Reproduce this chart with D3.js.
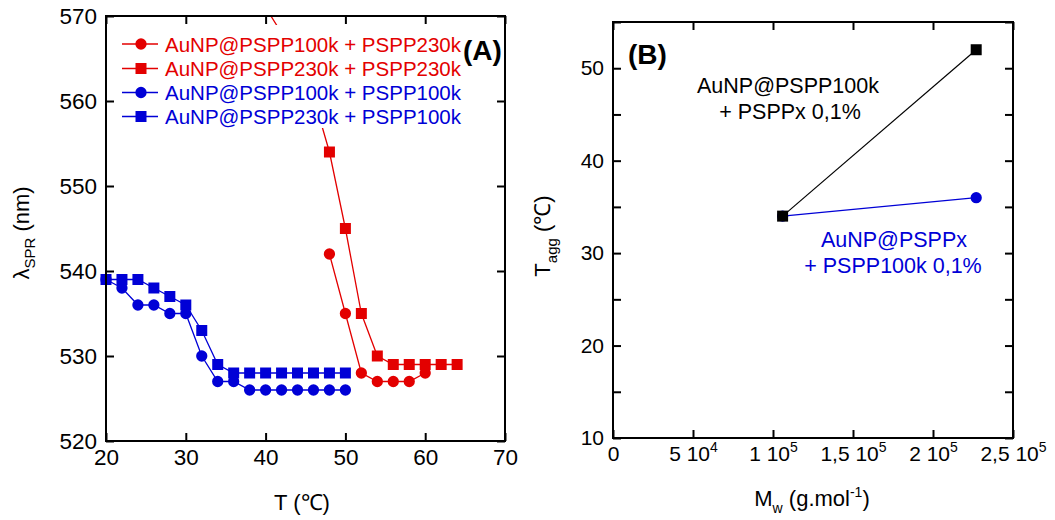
<!DOCTYPE html>
<html><head><meta charset="utf-8">
<script src="https://cdn.jsdelivr.net/npm/d3@7/dist/d3.min.js"></script>
<style>
body{margin:0;background:#fff;}
svg{display:block;font-family:"Liberation Sans",Arial,sans-serif;}
</style></head>
<body>
<svg id="c" width="1055" height="520"></svg>
<script>
// ---------- Panel A data ----------
const tempsRedCirc = [48,50,52,54,56,58,60];
const lambdaRedCirc = [542,535,528,527,527,527,528];
const tempsRedSq = [40,42,44,46,48,50,52,54,56,58,60,62,64];
const lambdaRedSq = [571,568,564.5,560.5,554,545,535,530,529,529,529,529,529];
const tempsBlue = [20,22,24,26,28,30,32,34,36,38,40,42,44,46,48,50];
const lambdaBlueCirc = [539,538,536,536,535,535,530,527,527,526,526,526,526,526,526,526];
const lambdaBlueSq = [539,539,539,538,537,536,533,529,528,528,528,528,528,528,528,528];
const seriesNamesA = ["AuNP@PSPP100k + PSPP230k","AuNP@PSPP230k + PSPP230k","AuNP@PSPP100k + PSPP100k","AuNP@PSPP230k + PSPP100k"];
const xTicksA = [20,30,40,50,60,70];
const yTicksA = [520,530,540,550,560,570];

// ---------- Panel B data ----------
const mwB = [1.06e5, 2.27e5];
const taggBlack = [34, 52];
const taggBlue = [34, 36];
const xTicksB = [0,5e4,1e5,1.5e5,2e5,2.5e5];
const xTickBaseB = ["0","5 10","1 10","1,5 10","2 10","2,5 10"];
const xTickExpB = ["","4","5","5","5","5"];
const yTicksB = [10,15,20,25,30,35,40,45,50,55];

const RED = "#e30000", BLUE = "#0000d6", BLACK = "#000";
const svg = d3.select("#c");

function frameAxes(g, x, y, xt, yt, xfmt, yfmt, fs, w, h){
  const tl = 8;
  g.append("g").attr("class","xb").attr("transform",`translate(0,${h})`)
    .call(d3.axisBottom(x).tickValues(xt).tickSizeInner(-tl).tickSizeOuter(0).tickPadding(8).tickFormat(xfmt));
  g.append("g")
    .call(d3.axisTop(x).tickValues(xt).tickSizeInner(-tl).tickSizeOuter(0).tickFormat(""));
  g.append("g")
    .call(d3.axisLeft(y).tickValues(yt).tickSizeInner(-tl).tickSizeOuter(0).tickPadding(9).tickFormat(yfmt));
  g.append("g").attr("transform",`translate(${w},0)`)
    .call(d3.axisRight(y).tickValues(yt).tickSizeInner(-tl).tickSizeOuter(0).tickFormat(""));
  g.selectAll(".domain").remove();
  g.selectAll(".tick line").attr("stroke","#000").attr("stroke-width",2);
  g.selectAll(".tick text").attr("fill","#000").style("font-size",fs+"px").style("font-family","'Liberation Sans',Arial,sans-serif");
  g.append("rect").attr("width",w).attr("height",h).attr("fill","none").attr("stroke","#000").attr("stroke-width",2);
}

function drawSeries(g, x, y, xs, ys, color, shape, lw){
  const pts = xs.map((v,i)=>[v,ys[i]]);
  g.append("path").datum(pts).attr("fill","none").attr("stroke",color).attr("stroke-width",lw)
    .attr("d", d3.line().x(d=>x(d[0])).y(d=>y(d[1])));
  const sym = d3.symbol().type(shape==="circle"?d3.symbolCircle:d3.symbolSquare).size(shape==="circle"?100:121);
  g.selectAll(null).data(pts).enter().append("path")
    .attr("transform",d=>`translate(${x(d[0])},${y(d[1])})`)
    .attr("d",sym).attr("fill",color);
}

// ================= Panel A =================
{
  const L=106, T=16, W=399, H=425;
  const g = svg.append("g").attr("transform",`translate(${L},${T})`);
  const x = d3.scaleLinear().domain([20,70]).range([0,W]);
  const y = d3.scaleLinear().domain([520,570]).range([H,0]);
  g.append("clipPath").attr("id","clipA").append("rect").attr("x",-20).attr("width",W+40).attr("height",H+20);
  const d = g.append("g").attr("clip-path","url(#clipA)");
  drawSeries(d, x, y, tempsRedCirc, lambdaRedCirc, RED, "circle", 1.3);
  drawSeries(d, x, y, tempsRedSq, lambdaRedSq, RED, "square", 1.3);
  drawSeries(d, x, y, tempsBlue, lambdaBlueCirc, BLUE, "circle", 1.3);
  drawSeries(d, x, y, tempsBlue, lambdaBlueSq, BLUE, "square", 1.3);

  // legend
  const lg = g.append("g");
  lg.append("rect").attr("x",12).attr("y",9).attr("width",348).attr("height",103).attr("fill","#fff");
  const colors=[RED,RED,BLUE,BLUE], shapes=["circle","square","circle","square"];
  const rowY=[28,52.5,76.5,100.5];
  seriesNamesA.forEach((name,i)=>{
    const r = lg.append("g").attr("transform",`translate(0,${rowY[i]})`);
    r.append("line").attr("x1",16).attr("x2",52).attr("stroke",colors[i]).attr("stroke-width",1.3);
    r.append("path").attr("transform","translate(35,0)")
      .attr("d",d3.symbol().type(shapes[i]==="circle"?d3.symbolCircle:d3.symbolSquare).size(shapes[i]==="circle"?100:121))
      .attr("fill",colors[i]);
    r.append("text").attr("x",59).attr("y",7.5).attr("fill",colors[i]).style("font-size","20.5px").text(name);
  });
  frameAxes(g, x, y, xTicksA, yTicksA, d3.format("d"), d3.format("d"), 22.5, W, H);
  g.append("text").attr("x",357).attr("y",44).style("font-size","28px").style("font-weight","bold").text("(A)");
  // axis titles
  svg.append("text").attr("x",302).attr("y",510).attr("text-anchor","middle").style("font-size","22px").text("T (\u2103)");
  const yt = svg.append("text").attr("transform","translate(29,233) rotate(-90)").attr("text-anchor","middle").style("font-size","22px");
  yt.append("tspan").text("\u03bb");
  yt.append("tspan").attr("dy",6).style("font-size","15px").text("SPR");
  yt.append("tspan").attr("dy",-6).text(" (nm)");
}

// ================= Panel B =================
{
  const L=613, T=22, W=400, H=416;
  const g = svg.append("g").attr("transform",`translate(${L},${T})`);
  const x = d3.scaleLinear().domain([0,2.5e5]).range([0,W]);
  const y = d3.scaleLinear().domain([10,55]).range([H,0]);
  drawSeries(g, x, y, mwB, taggBlue, BLUE, "circle", 1.2);
  drawSeries(g, x, y, mwB, taggBlack, BLACK, "square", 1.2);
  frameAxes(g, x, y, xTicksB, yTicksB, ()=>"", v=> v%10===0 ? String(v) : "", 21, W, H);
  // custom x tick labels with superscripts
  g.select(".xb").selectAll(".tick text")
    .each(function(v){
      const i = xTicksB.indexOf(v);
      const t = d3.select(this);
      t.append("tspan").text(xTickBaseB[i]);
      if (xTickExpB[i]) t.append("tspan").attr("dy",-9).style("font-size","14px").text(xTickExpB[i]);
    });
  g.append("text").attr("x",15).attr("y",42).style("font-size","28px").style("font-weight","bold").text("(B)");
  const ann = [
    {t:"AuNP@PSPP100k", x:175, y:71, c:BLACK},
    {t:"+ PSPPx 0,1%", x:177, y:97, c:BLACK},
    {t:"AuNP@PSPPx", x:281, y:225, c:BLUE},
    {t:"+ PSPP100k 0,1%", x:280, y:251, c:BLUE}
  ];
  ann.forEach(a=>g.append("text").attr("x",a.x).attr("y",a.y).attr("text-anchor","middle").attr("fill",a.c).style("font-size","21.5px").text(a.t));
  const xt = svg.append("text").attr("x",812).attr("y",506).attr("text-anchor","middle").style("font-size","22px");
  xt.append("tspan").text("M");
  xt.append("tspan").attr("dy",7).style("font-size","14px").text("w");
  xt.append("tspan").attr("dy",-7).text(" (g.mol");
  xt.append("tspan").attr("dy",-9).style("font-size","14px").text("-1");
  xt.append("tspan").attr("dy",9).text(")");
  const yt = svg.append("text").attr("transform","translate(550,236) rotate(-90)").attr("text-anchor","middle").style("font-size","22px");
  yt.append("tspan").text("T");
  yt.append("tspan").attr("dy",7).style("font-size","15px").text("agg");
  yt.append("tspan").attr("dy",-7).text(" (\u2103)");
}
</script>
</body></html>
